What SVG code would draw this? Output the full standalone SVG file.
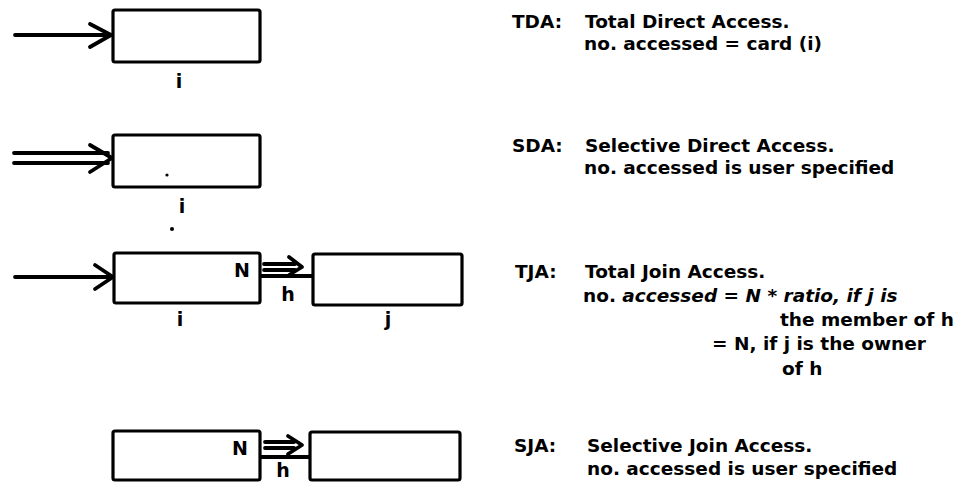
<svg xmlns="http://www.w3.org/2000/svg" width="961" height="491" viewBox="0 0 961 491">
<style>
.box{fill:#fff;stroke:#000;stroke-width:3.2;stroke-linejoin:round}
.ln{fill:none;stroke:#000;stroke-width:3.8;stroke-linecap:round;stroke-linejoin:round}
.t{font-family:"DejaVu Sans","Liberation Sans",sans-serif;font-weight:bold;font-size:18.5px;fill:#000}
.lb{font-family:"DejaVu Sans","Liberation Sans",sans-serif;font-weight:bold;font-size:19px;fill:#000}
.it{font-style:italic}
</style>
<rect width="961" height="491" fill="#fff"/>
<g id="connectors">
  <line class="ln" x1="15" y1="35" x2="110" y2="35"/>
  <polyline class="ln" points="90,24 111,35 90,47"/>
  <line class="ln" x1="14" y1="153" x2="108" y2="153"/>
  <line class="ln" x1="14" y1="163" x2="108" y2="163"/>
  <polyline class="ln" points="90,145 112,158 90,172"/>
  <line class="ln" x1="15" y1="277" x2="111" y2="277"/>
  <polyline class="ln" points="95,265 113,277 95,289"/>
  <line class="ln" x1="264" y1="264" x2="295" y2="264"/>
  <line class="ln" x1="264" y1="270" x2="295" y2="270"/>
  <polyline class="ln" points="289,257 302,267 289,275"/>
  <line class="ln" x1="260" y1="276" x2="313" y2="276"/>
  <line class="ln" x1="265" y1="442" x2="294" y2="442"/>
  <line class="ln" x1="265" y1="448" x2="294" y2="448"/>
  <polyline class="ln" points="288,436 302,445 288,454"/>
  <line class="ln" x1="260" y1="457" x2="310" y2="457"/>
</g>
<g id="tda-node">
  <rect class="box" x="113" y="10" width="147" height="52" rx="2"/>
  <text class="lb" x="179" y="88" text-anchor="middle">i</text>
</g>
<g id="sda-node">
  <rect class="box" x="113" y="135" width="147" height="52" rx="2"/>
  <circle cx="167" cy="175" r="1.6" fill="#000"/>
  <text class="lb" x="182" y="213" text-anchor="middle">i</text>
  <circle cx="172" cy="229" r="2" fill="#000"/>
</g>
<g id="tja-node-i">
  <rect class="box" x="114" y="253" width="146" height="50" rx="2"/>
  <text class="lb" x="250" y="277" text-anchor="end">N</text>
  <text class="lb" x="288" y="301" text-anchor="middle">h</text>
  <text class="lb" x="180" y="326" text-anchor="middle">i</text>
</g>
<g id="tja-node-j">
  <rect class="box" x="313" y="254" width="149" height="51" rx="2"/>
  <text class="lb" x="388" y="326" text-anchor="middle">j</text>
</g>
<g id="sja-node-i">
  <rect class="box" x="113" y="431" width="147" height="49" rx="2"/>
  <text class="lb" x="248" y="455" text-anchor="end">N</text>
  <text class="lb" x="283" y="477" text-anchor="middle">h</text>
</g>
<g id="sja-node-j">
  <rect class="box" x="310" y="432" width="150" height="48" rx="2"/>
</g>
<g id="tda-text">
  <text class="t" x="512" y="28">TDA:</text>
  <text class="t" x="585" y="28">Total Direct Access.</text>
  <text class="t" x="584" y="50">no. accessed = card (i)</text>
</g>
<g id="sda-text">
  <text class="t" x="512" y="152">SDA:</text>
  <text class="t" x="585" y="152">Selective Direct Access.</text>
  <text class="t" x="584" y="174">no. accessed is user specified</text>
</g>
<g id="tja-text">
  <text class="t" x="515" y="278">TJA:</text>
  <text class="t" x="585" y="278">Total Join Access.</text>
  <text class="t" x="583" y="302">no. <tspan class="it">accessed = N * ratio, if j is</tspan></text>
  <text class="t" x="780" y="326">the member of h</text>
  <text class="t" x="712" y="350">= N, if j is the owner</text>
  <text class="t" x="782" y="375">of h</text>
</g>
<g id="sja-text">
  <text class="t" x="514" y="452">SJA:</text>
  <text class="t" x="587" y="452">Selective Join Access.</text>
  <text class="t" x="587" y="475">no. accessed is user specified</text>
</g>
</svg>
